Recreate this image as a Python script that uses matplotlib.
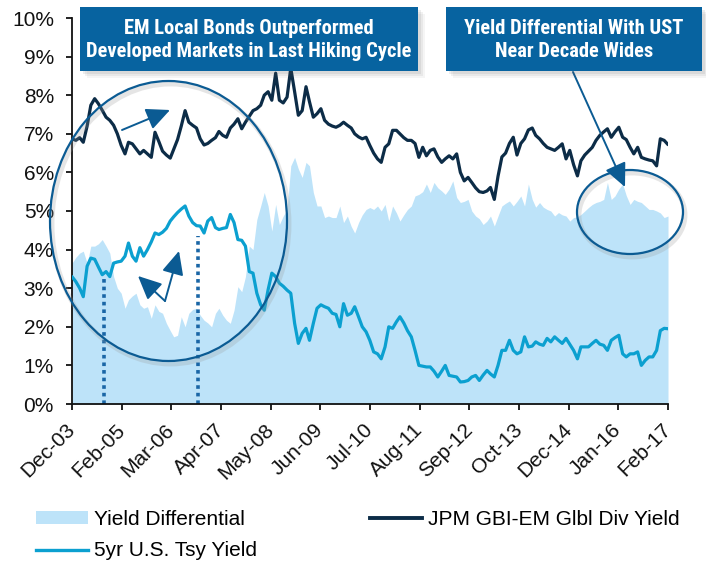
import matplotlib
matplotlib.use("Agg")
import numpy as np
import pandas as pd
import matplotlib.pyplot as plt
import matplotlib.dates as mdates
from matplotlib.patches import Ellipse, Rectangle, Patch
from matplotlib.lines import Line2D
from matplotlib import font_manager

plt.rcParams["font.family"] = ["Liberation Sans", "DejaVu Sans"]

# monthly data, Dec-03 .. Feb-17
start_month = "2003-12-01"

yield_diff = [
    3.65, 3.8, 3.91, 3.96, 3.65, 4.09, 4.09, 4.15, 4.26, 4.09, 3.91, 3.30,
    3.0, 2.87, 2.48, 2.70, 2.8, 2.87, 2.57, 2.48, 2.52, 2.22, 2.57, 2.4,
    2.35, 2.09, 1.9, 1.74, 1.78, 2.26, 2.0, 2.35, 2.45, 2.48, 2.30, 2.17,
    2.1, 2.0, 2.35, 2.48, 2.3, 2.17, 2.09, 2.43, 3.04, 2.91, 3.30, 4.09,
    4.0, 4.78, 5.13, 5.48, 5.13, 4.48, 5.17, 4.65, 4.87, 5.04, 6.17, 6.39,
    6.09, 5.87, 6.26, 6.17, 5.48, 5.13, 5.13, 4.83, 4.87, 4.83, 4.83, 5.13,
    4.70, 4.87, 4.6, 4.43, 4.70, 4.9, 5.04, 5.09, 5.04, 5.13, 5.0, 5.17,
    4.74, 5.13, 4.95, 4.74, 4.9, 5.04, 5.13, 5.39, 5.43, 5.5, 5.70, 5.48,
    5.74, 5.6, 5.52, 5.43, 5.57, 5.78, 5.35, 5.22, 5.25, 5.30, 5.0, 4.87,
    4.8, 4.65, 4.74, 4.87, 4.61, 4.87, 5.13, 5.2, 5.26, 5.13, 5.25, 5.39,
    5.13, 5.7, 5.3, 5.1, 5.22, 5.1, 5.04, 5.0, 4.87, 4.96, 4.9, 4.87,
    4.74, 4.83, 4.85, 4.91, 5.0, 5.09, 5.17, 5.22, 5.25, 5.30, 5.74, 5.30,
    5.39, 5.57, 5.70, 5.4, 5.17, 5.30, 5.25, 5.22, 5.13, 5.04, 5.04, 5.0,
    4.95, 4.83, 4.87,
]

em_yield = [
    6.87, 6.83, 6.9, 6.78, 7.2, 7.74, 7.91, 7.78, 7.61, 7.43, 7.35, 7.22,
    7.0, 6.70, 6.48, 6.78, 6.74, 6.61, 6.48, 6.57, 6.48, 6.39, 7.04, 6.8,
    6.55, 6.45, 6.37, 6.6, 6.85, 7.2, 7.6, 7.3, 7.22, 7.15, 6.87, 6.71,
    6.75, 6.83, 6.9, 7.06, 6.96, 6.91, 7.15, 7.25, 7.39, 7.13, 7.3, 7.45,
    7.6, 7.65, 7.74, 8.0, 8.09, 7.87, 8.57, 7.87, 7.8, 7.95, 8.7, 8.09,
    7.48, 7.6, 8.22, 7.83, 7.43, 7.52, 7.65, 7.35, 7.25, 7.2, 7.17, 7.22,
    7.3, 7.22, 7.15, 7.0, 6.92, 6.87, 6.91, 6.70, 6.5, 6.35, 6.26, 6.65,
    6.74, 7.09, 7.09, 7.0, 6.9, 6.83, 6.83, 6.75, 6.39, 6.65, 6.43, 6.57,
    6.61, 6.4, 6.26, 6.35, 6.43, 6.35, 6.48, 6.0, 5.78, 5.87, 5.74, 5.6,
    5.5, 5.48, 5.52, 5.61, 5.3, 5.9, 6.4, 6.5, 6.75, 6.91, 6.45, 6.75,
    6.87, 7.1, 7.15, 6.96, 6.87, 6.75, 6.65, 6.61, 6.57, 6.65, 6.74, 6.35,
    6.57, 6.2, 5.91, 6.30, 6.45, 6.55, 6.65, 6.83, 6.96, 7.05, 7.13, 6.91,
    7.05, 7.17, 6.91, 6.85, 6.65, 6.48, 6.65, 6.39, 6.35, 6.32, 6.30, 6.17,
    6.87, 6.83, 6.72,
]

ust_5yr = [
    3.3, 3.17, 3.0, 2.78, 3.57, 3.78, 3.75, 3.55, 3.35, 3.43, 3.30, 3.65,
    3.68, 3.7, 3.83, 4.17, 3.83, 3.70, 4.05, 3.83, 4.0, 4.2, 4.43, 4.39,
    4.45, 4.55, 4.74, 4.85, 4.96, 5.05, 5.13, 4.87, 4.7, 4.62, 4.61, 4.43,
    4.74, 4.83, 4.57, 4.52, 4.55, 4.57, 4.91, 4.70, 4.26, 4.24, 4.09, 3.43,
    3.39, 2.87, 2.57, 2.43, 2.96, 3.39, 3.30, 3.13, 3.05, 2.95, 2.87, 2.09,
    1.57, 1.83, 1.96, 1.65, 2.09, 2.48, 2.57, 2.52, 2.48, 2.35, 2.32, 2.0,
    2.6, 2.30, 2.35, 2.52, 2.26, 2.0, 1.87, 1.65, 1.35, 1.3, 1.17, 1.48,
    2.0, 1.96, 2.13, 2.26, 2.1, 1.9, 1.74, 1.39, 1.0, 0.98, 0.96, 0.96,
    0.85, 0.70, 0.85, 1.0, 0.74, 0.72, 0.70, 0.57, 0.58, 0.61, 0.7, 0.74,
    0.61, 0.75, 0.87, 0.78, 0.70, 1.0, 1.39, 1.39, 1.65, 1.39, 1.30, 1.35,
    1.74, 1.48, 1.5, 1.61, 1.55, 1.52, 1.70, 1.61, 1.74, 1.65, 1.57, 1.70,
    1.55, 1.39, 1.17, 1.48, 1.48, 1.48, 1.57, 1.65, 1.55, 1.52, 1.39, 1.65,
    1.72, 1.78, 1.30, 1.22, 1.30, 1.30, 1.35, 1.0, 1.13, 1.22, 1.22, 1.39,
    1.9, 1.96, 1.95,
]

tick_labels = ["Dec-03", "Feb-05", "Mar-06", "Apr-07", "May-08", "Jun-09", "Jul-10",
               "Aug-11", "Sep-12", "Oct-13", "Dec-14", "Jan-16", "Feb-17"]

# dotted markers (date, height in %)
marker_dates = ["2004-08-15", "2006-09-10"]
marker_tops = [3.27, 4.34]

box_blue = "#0763a0"
ring_blue = "#0b5b93"
fill_blue = "#bde3f9"
ust_col = "#0ba0d0"
em_col = "#0c2c47"

W, H = 706, 561
dates = pd.date_range(start=start_month, periods=len(em_yield), freq="MS")

fig = plt.figure(figsize=(W / 100, H / 100), dpi=100)
ax = fig.add_axes([72 / W, 1 - 404 / H, 596 / W, 386 / H])

ax.fill_between(dates, 0, yield_diff, color=fill_blue, lw=0, zorder=1)
ax.vlines(pd.to_datetime(marker_dates), 0, marker_tops, colors="#1a66a6", lw=2.6,
          linestyles=(0, (1, 1.1)), zorder=2)
ax.plot(dates, ust_5yr, color=ust_col, lw=2.3, zorder=3, solid_capstyle="round")
ax.plot(dates, em_yield, color=em_col, lw=2.3, zorder=3, solid_capstyle="round")

ax.set_xlim(dates[0], dates[-1])
ax.set_ylim(0, 10)
ax.set_yticks(range(0, 11))
ax.set_yticklabels([f"{v}%" for v in range(0, 11)])
ax.set_xticks(np.linspace(mdates.date2num(dates[0]), mdates.date2num(dates[-1]), len(tick_labels)))
ax.set_xticklabels(tick_labels, rotation=45, ha="right", va="center", rotation_mode="anchor")

for s in ["top", "right"]:
    ax.spines[s].set_visible(False)
for s in ["left", "bottom"]:
    ax.spines[s].set_linewidth(1.3)
    ax.spines[s].set_color("#111111")
ax.tick_params(axis="both", labelsize=15, length=4.5, width=1.3, color="#111111", labelcolor="#111111")
ax.tick_params(axis="y", pad=8.5)
ax.tick_params(axis="x", pad=12)

# legend
handles = [Patch(facecolor=fill_blue, edgecolor="none", label="Yield Differential"),
           Line2D([], [], color=ust_col, lw=2.4, label="5yr U.S. Tsy Yield"),
           Line2D([], [], color=em_col, lw=2.8, label="JPM GBI-EM Glbl Div Yield")]
fig.legend(handles=handles, ncol=2, loc="upper left", bbox_to_anchor=(36 / W, 1 - 510 / H),
           frameon=False, fontsize=15, borderpad=0, borderaxespad=0, handlelength=2.5,
           handleheight=0.55, handletextpad=0.3, columnspacing=5.4, labelspacing=0.6)


def fxy(x, y):
    return x / W, 1 - y / H


def axy(x, y):
    return (x - 72) / 596, (404 - y) / 386


# pick a condensed bold face for the callouts if one is installed
box_font = None
for want in ["Liberation Sans Narrow", "Roboto Condensed", "Open Sans Condensed", "DejaVu Sans"]:
    for f in font_manager.fontManager.ttflist:
        if f.name != want:
            continue
        bold = f.weight in ("bold", 700, "700") or "Bold" in f.fname
        narrow = (f.stretch in ("condensed", "semi-condensed", 75, 87)
                  or "Condensed" in f.fname or "Narrow" in f.fname)
        if bold and narrow and "Oblique" not in f.fname and "Italic" not in f.fname:
            box_font = f.fname
            break
    if box_font:
        break

renderer = fig.canvas.get_renderer()
for (x0, x1, txt, target) in [(80, 418, "EM Local Bonds Outperformed\nDeveloped Markets in Last Hiking Cycle", 326),
                              (446, 702, "Yield Differential With UST\nNear Decade Wides", 220)]:
    for off, a in [(7, 0.06), (5, 0.08), (3, 0.1)]:
        fig.add_artist(Rectangle(fxy(x0 + off, 71 + off), (x1 - x0) / W, 64 / H,
                                 transform=fig.transFigure, facecolor="#555555", alpha=a, lw=0))
    fig.add_artist(Rectangle(fxy(x0, 71), (x1 - x0) / W, 64 / H, transform=fig.transFigure,
                             facecolor=box_blue, lw=0))
    cx, cy = fxy((x0 + x1) / 2, 40)
    if box_font:
        fp = font_manager.FontProperties(fname=box_font, size=15)
    else:
        fp = font_manager.FontProperties(family="Liberation Sans", weight="bold", size=15)
    t = fig.text(cx, cy, txt, ha="center", va="center", color="white", fontproperties=fp,
                 linespacing=1.25)
    wpx = t.get_window_extent(renderer).width
    t.set_fontsize(min(15.5, 15 * target / wpx))

# rings
for (cx, cy, w, h) in [(168.5, 221, 237, 280), (630, 212, 106, 84)]:
    ex, ey = axy(cx + 2, cy + 3)
    ax.add_patch(Ellipse((ex, ey), w / 596, h / 386, transform=ax.transAxes, fill=False,
                         edgecolor="#999999", alpha=0.25, lw=3.5, clip_on=False, zorder=4))
    ex, ey = axy(cx, cy)
    ax.add_patch(Ellipse((ex, ey), w / 596, h / 386, transform=ax.transAxes, fill=False,
                         edgecolor=ring_blue, lw=1.6, clip_on=False, zorder=5))

# arrows
for (x0, y0, x1, y1) in [(122, 130, 170, 110), (165, 301, 138, 276), (165, 301, 179, 251),
                         (573, 72, 625, 187)]:
    ax.annotate("", xy=axy(x1, y1), xycoords="axes fraction", xytext=axy(x0, y0),
                textcoords="axes fraction", annotation_clip=False,
                arrowprops=dict(arrowstyle="-|>,head_length=0.6,head_width=0.28", color=ring_blue,
                                lw=1.4, mutation_scale=24, shrinkA=0, shrinkB=0), zorder=6)

fig.savefig("out.png", dpi=100)
